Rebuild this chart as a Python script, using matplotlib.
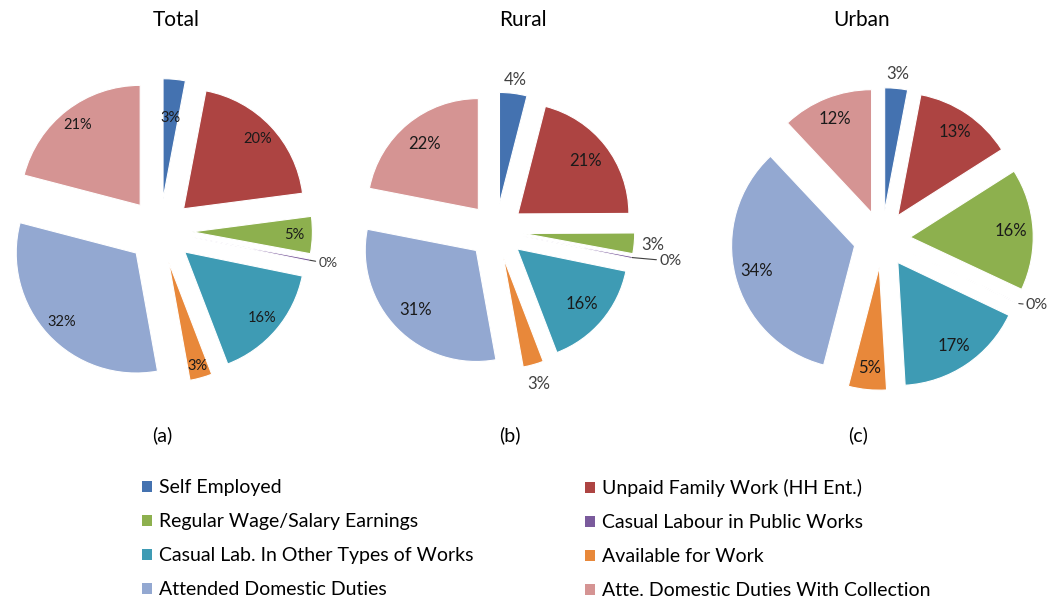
import numpy as np
import matplotlib.pyplot as plt

plt.rcParams['font.family'] = ['Lato', 'DejaVu Sans']

categories = ['Self Employed', 'Unpaid Family Work (HH Ent.)',
              'Regular Wage/Salary Earnings', 'Casual Labour in Public Works',
              'Casual Lab. In Other Types of Works', 'Available for Work',
              'Attended Domestic Duties', 'Atte. Domestic Duties With Collection']
total_vals = [3, 20, 5, 0.3, 16, 3, 32, 21]
rural_vals = [4, 21, 3, 0.3, 16, 3, 31, 22]
urban_vals = [3, 13, 16, 0.1, 17, 5, 34, 12]
titles = ['Total', 'Rural', 'Urban']
captions = ['(a)', '(b)', '(c)']

colors = ['#4472B0', '#AD4442', '#8DB04E', '#7A5A9C',
          '#3E9BB4', '#E8883A', '#93A8D1', '#D59493']

W, H = 1049, 609
fig = plt.figure(figsize=(W / 100, H / 100), dpi=100)

# centre x, centre y (px from top), radius px, explode, label dist, fontsize
pies = [
    dict(vals=total_vals, cx=160, cy=231, R=120, ex=0.27, kd=0.85, fs=10.5,
         lab={0: 0.68, 5: 0.9}, zero=(1.32, -0.27)),
    dict(vals=rural_vals, cx=496, cy=231, R=111, ex=0.25, kd=0.77, fs=12,
         lab={0: 1.12, 2: 1.17, 5: 1.18}, zero=(1.47, -0.27)),
    dict(vals=urban_vals, cx=882, cy=239, R=123, ex=0.23, kd=0.82, fs=12,
         lab={0: 1.12}, zero=(1.17, -0.54)),
]

L = 1.6
handles = None
for p, title, cap in zip(pies, titles, captions):
    R = p['R']
    ax = fig.add_axes([(p['cx'] - L * R) / W, 1 - (p['cy'] + L * R) / H,
                       2 * L * R / W, 2 * L * R / H])
    wedges, _ = ax.pie(p['vals'], colors=colors, startangle=90, counterclock=False,
                       explode=[p['ex']] * len(p['vals']),
                       wedgeprops=dict(edgecolor='white', linewidth=0.8))
    if handles is None:
        handles = wedges
    for i, (w, v) in enumerate(zip(wedges, p['vals'])):
        th = np.deg2rad((w.theta1 + w.theta2) / 2)
        cx0, cy0 = w.center
        tip = (cx0 + w.r * np.cos(th), cy0 + w.r * np.sin(th))
        txt = '%d%%' % round(v)
        if i == 3:
            ax.annotate(txt, xy=tip, xytext=p['zero'], fontsize=p['fs'] - 0.5,
                        color='#404040', va='center', ha='left',
                        arrowprops=dict(arrowstyle='-', color='#404040', lw=0.8,
                                        shrinkA=0, shrinkB=0))
            continue
        k = p['lab'].get(i, p['kd'])
        col = '#404040' if k > 1 else '#1a1a1a'
        ax.text(cx0 + k * w.r * np.cos(th), cy0 + k * w.r * np.sin(th), txt,
                ha='center', va='center', fontsize=p['fs'], color=col)
    ax.set_xlim(-L, L)
    ax.set_ylim(-L, L)
    ax.set_axis_off()

for t, x in zip(titles, [176, 523, 862]):
    fig.text(x / W, 1 - 20 / H, t, ha='center', va='center', fontsize=15)
for c, x in zip(captions, [162, 510, 858]):
    fig.text(x / W, 1 - 435 / H, c, ha='center', va='center', fontsize=14)

order = [[0, 2, 4, 6], [1, 3, 5, 7]]
for col, x in zip(order, [142, 585]):
    leg = fig.legend([handles[i] for i in col], [categories[i] for i in col],
                     loc='upper left', bbox_to_anchor=(x / W, 1 - 479 / H),
                     frameon=False, fontsize=14, handlelength=0.5, handleheight=0.5,
                     handletextpad=0.35, labelspacing=0.88, borderpad=0, borderaxespad=0)
    for h in leg.legend_handles:
        h.set_edgecolor('none')

fig.savefig('out.png', dpi=100)
